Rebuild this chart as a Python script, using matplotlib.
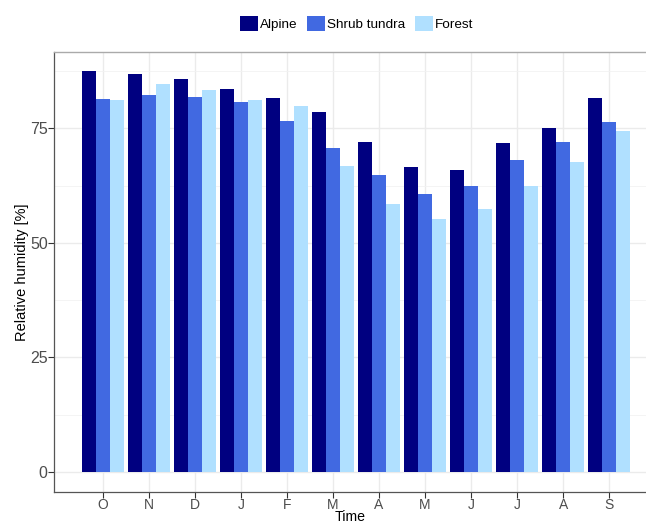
import numpy as np
import matplotlib.pyplot as plt
from matplotlib.ticker import MultipleLocator

plt.rcParams['font.family'] = ['Liberation Sans', 'DejaVu Sans']

# 月份（10月到9月）
months = ['O', 'N', 'D', 'J', 'F', 'M', 'A', 'M', 'J', 'J', 'A', 'S']
alpine = [87.4, 86.9, 85.7, 83.6, 81.6, 78.6, 72.0, 66.6, 66.0, 71.9, 75.0, 81.7]
shrub = [81.3, 82.2, 81.9, 80.8, 76.7, 70.6, 64.8, 60.7, 62.4, 68.1, 72.1, 76.4]
forest = [81.2, 84.7, 83.4, 81.1, 79.9, 66.8, 58.5, 55.1, 57.3, 62.5, 67.6, 74.4]

series = [('Alpine', alpine, '#000080'),
          ('Shrub tundra', shrub, '#4169E1'),
          ('Forest', forest, '#B0E0FF')]

fig = plt.figure(figsize=(6.46, 5.25), dpi=100)
ax = fig.add_axes([54 / 646, 1 - 491.7 / 525, 1 - 54 / 646, (491.7 - 52) / 525])

x = np.arange(len(months))
w = 0.3
for i, (name, vals, col) in enumerate(series):
    ax.bar(x + (i - 1) * w, vals, width=w, color=col, label=name, zorder=3)

ax.set_xlim(-1.06, 11.8)
ax.set_ylim(-4.3, 91.65)
ax.set_xticks(x)
ax.set_xticklabels(months)
ax.yaxis.set_major_locator(MultipleLocator(25))
ax.yaxis.set_minor_locator(MultipleLocator(12.5))

# 网格
ax.grid(True, which='major', color='#ebebeb', linewidth=1.0, zorder=0)
ax.grid(True, which='minor', axis='y', color='#f2f2f2', linewidth=0.6, zorder=0)
ax.tick_params(which='minor', length=0)
ax.tick_params(which='major', length=4, color='#333333', labelcolor='#4d4d4d', width=0.8)
ax.tick_params(axis='x', labelsize=10, pad=0.8)
ax.tick_params(axis='y', labelsize=11.5, pad=0.5)

for s in ['left', 'bottom']:
    ax.spines[s].set_color('#555555')
    ax.spines[s].set_linewidth(0.9)
ax.spines['top'].set_color('#aaaaaa')
ax.spines['top'].set_linewidth(1.0)
ax.spines['right'].set_visible(False)

ax.set_xlabel('Time', fontsize=10.2, labelpad=-1.5)
ax.set_ylabel('Relative humidity [%]', fontsize=10.5, labelpad=1)

fig.legend(loc='center', bbox_to_anchor=(0.552, 0.956), ncol=3, frameon=False,
           fontsize=9.7, handlelength=1.34, handleheight=1.34,
           handletextpad=0.15, columnspacing=0.7, borderpad=0)

fig.savefig('out.png', dpi=100)
